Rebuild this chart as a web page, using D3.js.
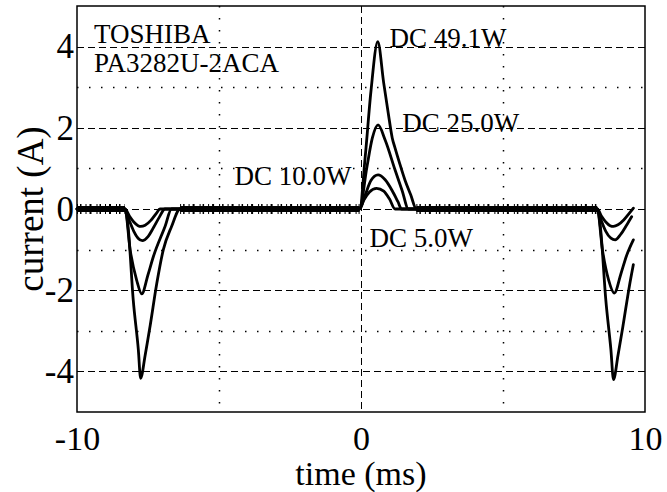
<!DOCTYPE html>
<html>
<head>
<meta charset="utf-8">
<script src="https://cdn.jsdelivr.net/npm/d3@7"></script>
<style>
  html, body { margin: 0; padding: 0; background: #fff; }
  svg { display: block; }
  text { font-family: "Liberation Serif", "Times New Roman", serif; fill: #000; }
</style>
</head>
<body>
<svg id="chart" width="667" height="492"></svg>
<script>
// ---------- data (time in ms, current in A) ----------
const xTicks = [-10, 0, 10];
const xTickLabels = ["-10", "0", "10"];
const yTicks = [-4, -2, 0, 2, 4];
const yTickLabels = ["-4", "-2", "0", "2", "4"];
const xMajorGrid = [0];
const xMinorGrid = [-5, 5];
const yMajorGrid = [-4, -2, 0, 2, 4];
const yMinorGrid = [-3, -1, 1, 3];

const series5W = [
  [-10, 0], [-8.31, 0], [-8.15, -0.18], [-8.0, -0.32], [-7.85, -0.41], [-7.76, -0.43],
  [-7.6, -0.4], [-7.4, -0.28], [-7.2, -0.1], [-7.08, 0], [-0.05, 0],
  [0.1, 0.22], [0.3, 0.42], [0.55, 0.51], [0.8, 0.44], [1.0, 0.25], [1.2, 0],
  [8.32, 0], [8.47, -0.18], [8.62, -0.32], [8.77, -0.41], [8.89, -0.43],
  [9.05, -0.39], [9.25, -0.27], [9.45, -0.1], [9.59, 0.02]
];
const series10W = [
  [-10, 0], [-8.31, 0], [-8.15, -0.3], [-8.0, -0.55], [-7.85, -0.72], [-7.70, -0.78],
  [-7.5, -0.68], [-7.3, -0.45], [-7.1, -0.2], [-6.9, 0], [-0.05, 0],
  [0.15, 0.35], [0.35, 0.7], [0.6, 0.84], [0.85, 0.72], [1.1, 0.45], [1.3, 0.18], [1.43, 0],
  [8.32, 0], [8.47, -0.3], [8.62, -0.55], [8.8, -0.72], [8.95, -0.76],
  [9.15, -0.62], [9.35, -0.4], [9.53, -0.19]
];
const series25W = [
  [-10, 0], [-8.31, 0], [-8.13, -1.0], [-7.9, -1.75], [-7.72, -2.09],
  [-7.5, -1.62], [-7.31, -1.17], [-6.9, -0.43], [-6.67, 0], [-0.05, 0],
  [0.2, 1.0], [0.4, 1.75], [0.6, 2.07], [0.85, 1.7], [1.2, 0.96], [1.45, 0.45], [1.67, 0],
  [8.32, 0], [8.5, -1.0], [8.72, -1.75], [8.92, -2.07],
  [9.15, -1.6], [9.35, -1.15], [9.59, -0.76]
];
const series49W = [
  [-10, 0], [-8.31, 0], [-8.2, -0.45], [-8.02, -2.24], [-7.84, -3.47], [-7.76, -4.17],
  [-7.6, -3.6], [-7.43, -2.9], [-7.19, -1.83], [-6.96, -1.0], [-6.67, -0.43], [-6.37, 0], [-0.05, 0],
  [0.15, 1.3], [0.35, 2.9], [0.59, 4.12], [0.8, 3.1], [0.96, 2.36], [1.1, 1.75],
  [1.2, 1.5], [1.35, 1.15], [1.55, 0.71], [1.75, 0.35], [1.95, 0],
  [8.32, 0], [8.43, -0.45], [8.62, -2.24], [8.8, -3.47], [8.89, -4.2],
  [9.05, -3.6], [9.22, -2.9], [9.45, -1.9], [9.59, -1.37]
];
const seriesList = [series5W, series10W, series25W, series49W];

// flat, noisy stretches of the traces (drawn as a band)
const noiseBands = [[-10, -8.31], [-6.37, -0.05], [1.95, 8.32]];

const labels = [
  { text: "TOSHIBA", t: -9.4, v: 4.08 },
  { text: "PA3282U-2ACA", t: -9.4, v: 3.37 },
  { text: "DC 49.1W", t: 1.0, v: 3.98 },
  { text: "DC 25.0W", t: 1.45, v: 1.9 },
  { text: "DC 10.0W", t: -4.45, v: 0.6 },
  { text: "DC 5.0W", t: 0.3, v: -0.93 }
];

// ---------- layout ----------
const L = 77, R = 645, T = 6, B = 412;
const svg = d3.select("#chart");
const x = d3.scaleLinear().domain([-10, 10]).range([L, R]);
const y = d3.scaleLinear().domain([-5, 5]).range([B, T]);

// grid
const grid = svg.append("g").attr("stroke", "#000").attr("stroke-width", 1).attr("fill", "none");
grid.selectAll(".ymaj").data(yMajorGrid).join("line")
  .attr("x1", L).attr("x2", R).attr("y1", d => Math.round(y(d)) + 0.5).attr("y2", d => Math.round(y(d)) + 0.5)
  .attr("stroke-dasharray", "7,4");
grid.selectAll(".ymin").data(yMinorGrid).join("line")
  .attr("x1", L).attr("x2", R).attr("y1", d => Math.round(y(d)) + 0.5).attr("y2", d => Math.round(y(d)) + 0.5)
  .attr("stroke-width", 1.5).attr("stroke-dasharray", "1.5,10.5");
grid.selectAll(".xmaj").data(xMajorGrid).join("line")
  .attr("y1", T).attr("y2", B).attr("x1", d => Math.round(x(d)) + 0.5).attr("x2", d => Math.round(x(d)) + 0.5)
  .attr("stroke-dasharray", "7,4");
grid.selectAll(".xmin").data(xMinorGrid).join("line")
  .attr("y1", T).attr("y2", B).attr("x1", d => Math.round(x(d)) + 0.5).attr("x2", d => Math.round(x(d)) + 0.5)
  .attr("stroke-width", 1.5).attr("stroke-dasharray", "1.5,10.5");

// noise bands: a solid core plus a ragged fringe
const band = d3.line().x(d => x(d)).y(() => y(0));
const bands = svg.append("g").attr("fill", "none").attr("stroke", "#000");
bands.selectAll(".core").data(noiseBands).join("path")
  .attr("d", d => band(d)).attr("stroke-width", 6);
bands.selectAll(".fringe").data(noiseBands).join("path")
  .attr("d", d => band(d)).attr("stroke-width", 10)
  .attr("stroke-dasharray", "1,2,1.5,4,1,3,2,5");

// traces
const line = d3.line().x(d => x(d[0])).y(d => y(d[1])).curve(d3.curveMonotoneX);
svg.append("g").selectAll("path").data(seriesList).join("path")
  .attr("d", d => line(d))
  .attr("fill", "none").attr("stroke", "#000").attr("stroke-width", 2.8)
  .attr("stroke-linejoin", "round").attr("stroke-linecap", "round");

// frame
svg.append("rect").attr("x", L).attr("y", T).attr("width", R - L).attr("height", B - T)
  .attr("fill", "none").attr("stroke", "#000").attr("stroke-width", 1.5);

// axes
const xAxis = d3.axisBottom(x).tickValues(xTicks).tickFormat((d, i) => xTickLabels[i]).tickSize(0).tickPadding(14);
const gx = svg.append("g").attr("transform", `translate(0,${B})`).call(xAxis);
gx.select(".domain").remove();
gx.selectAll("text").attr("font-size", 34).style("font-family", '"Liberation Serif", serif');

const yAxis = d3.axisLeft(y).tickValues(yTicks).tickFormat((d, i) => yTickLabels[i]).tickSize(0).tickPadding(3);
const gy = svg.append("g").attr("transform", `translate(${L},0)`).call(yAxis);
gy.select(".domain").remove();
gy.selectAll("text").attr("font-size", 35).style("font-family", '"Liberation Serif", serif');

// titles
svg.append("text").attr("x", (L + R) / 2).attr("y", 485).attr("text-anchor", "middle")
  .attr("font-size", 34).text("time (ms)");
svg.append("text").attr("transform", `translate(43,${y(0)}) rotate(-90)`).attr("text-anchor", "middle")
  .attr("font-size", 37).text("current (A)");

// annotations
svg.append("g").selectAll("text").data(labels).join("text")
  .attr("x", d => x(d.t)).attr("y", d => y(d.v))
  .attr("font-size", 27).text(d => d.text);
</script>
</body>
</html>
